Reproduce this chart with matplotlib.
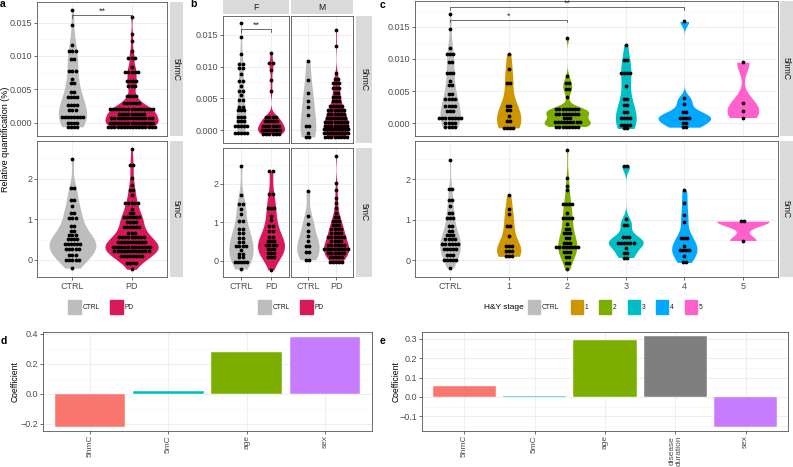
import numpy as np
import matplotlib
matplotlib.use("Agg")
import matplotlib.pyplot as plt
from matplotlib.patches import Rectangle

plt.rcParams['font.family'] = ['Liberation Sans', 'DejaVu Sans']

# rows of the dot plots: (value in %, number of dots in that row)
# panel c, 5hmC by H&Y stage
hmc_ctrl = [(0.0169, 1), (0.0147, 1), (0.0117, 1), (0.0107, 3), (0.0095, 2), (0.0078, 3), (0.0065, 1),
            (0.0059, 2), (0.0046, 2), (0.0038, 4), (0.0027, 4), (0.0019, 3), (0.0009, 8), (0.0, 4), (-0.0006, 4)]
hmc_s1 = [(0.0108, 1), (0.0084, 1), (0.0063, 2), (0.0027, 2), (0.0020, 2), (0.0011, 1), (0.0004, 2), (-0.0007, 4)]
hmc_s2 = [(0.0133, 1), (0.0073, 1), (0.0062, 2), (0.0053, 2), (0.0041, 1), (0.0022, 8), (0.0015, 8), (0.0008, 3),
          (0.0002, 9), (-0.0005, 8)]
hmc_s3 = [(0.0122, 1), (0.0099, 2), (0.0078, 4), (0.0058, 1), (0.0038, 2), (0.0029, 2), (0.0018, 2), (0.0008, 4),
          (-0.0002, 4), (-0.0008, 2)]
hmc_s4 = [(0.0158, 1), (0.0039, 1), (0.0030, 1), (0.0018, 2), (0.0009, 4), (0.0001, 2), (-0.0006, 2)]
hmc_s5 = [(0.0095, 1), (0.0031, 1), (0.0019, 1), (0.0009, 1)]

# panel c, 5mC by H&Y stage
mc_ctrl = [(2.48, 1), (1.76, 2), (1.48, 2), (1.34, 1), (1.16, 2), (1.03, 3), (0.84, 2), (0.71, 2), (0.61, 3),
           (0.51, 4), (0.39, 6), (0.26, 5), (0.12, 3), (0.0, 5), (-0.2, 1)]
mc_s1 = [(1.61, 1), (1.25, 1), (1.13, 1), (0.84, 2), (0.60, 1), (0.34, 3), (0.22, 3), (0.09, 3)]
mc_s2 = [(2.73, 1), (2.02, 1), (1.84, 1), (1.72, 1), (1.39, 4), (1.16, 1), (1.05, 4), (0.89, 1), (0.77, 2),
         (0.66, 3), (0.55, 2), (0.42, 3), (0.31, 8), (0.19, 3), (0.07, 2), (-0.07, 2), (-0.23, 1)]
mc_s3 = [(2.33, 2), (1.01, 1), (0.86, 2), (0.57, 3), (0.42, 6), (0.29, 1), (0.18, 2), (0.06, 2)]
mc_s4 = [(1.72, 1), (1.41, 1), (1.10, 1), (0.93, 1), (0.54, 3), (0.34, 1), (0.24, 4), (0.11, 1), (-0.06, 2)]
mc_s5 = [(0.96, 2), (0.48, 1)]

# panel b, split by sex
hmc_f_ctrl = [(0.0168, 1), (0.0146, 1), (0.0119, 1), (0.0104, 2), (0.0097, 2), (0.0088, 1), (0.0077, 2),
              (0.0069, 1), (0.0062, 2), (0.0055, 1), (0.0048, 2), (0.0037, 2), (0.0031, 3), (0.0021, 3),
              (0.0014, 3), (0.0007, 5), (-0.0004, 5)]
hmc_f_pd = [(0.0121, 1), (0.0105, 2), (0.0094, 1), (0.0078, 1), (0.0061, 1), (0.0021, 4), (0.0014, 5),
            (0.0007, 6), (0.0, 7), (-0.0006, 6)]
hmc_m_ctrl = [(0.0108, 1), (0.0079, 1), (0.0058, 1), (0.0046, 1), (0.0036, 1), (0.0024, 1), (0.0007, 2),
              (-0.0004, 1), (-0.0011, 2)]
hmc_m_pd = [(0.0157, 1), (0.0133, 1), (0.0089, 1), (0.0081, 2), (0.0074, 3), (0.0066, 3), (0.0059, 2),
            (0.0052, 3), (0.0046, 3), (0.0038, 5), (0.0031, 6), (0.0025, 6), (0.0019, 7), (0.0013, 8),
            (0.0007, 8), (0.0001, 9), (-0.0005, 9), (-0.0011, 8)]
mc_f_ctrl = [(2.47, 1), (1.71, 1), (1.47, 2), (1.34, 1), (1.22, 1), (1.02, 2), (0.83, 2), (0.71, 2), (0.58, 2),
             (0.48, 2), (0.38, 4), (0.28, 1), (0.18, 2), (0.08, 2), (-0.03, 5), (-0.22, 1)]
mc_f_pd = [(2.34, 2), (1.73, 2), (1.38, 3), (1.17, 1), (1.05, 1), (0.90, 2), (0.76, 2), (0.62, 2), (0.50, 3),
           (0.40, 4), (0.30, 3), (0.20, 3), (0.10, 3), (-0.24, 1)]
mc_m_ctrl = [(1.82, 1), (1.17, 1), (0.96, 1), (0.78, 1), (0.65, 1), (0.50, 1), (0.37, 2), (0.23, 2), (0.02, 2)]
mc_m_pd = [(2.74, 1), (2.02, 1), (1.83, 1), (1.63, 1), (1.50, 1), (1.37, 1), (1.25, 1), (1.15, 2), (1.03, 3),
           (0.93, 3), (0.83, 4), (0.71, 4), (0.61, 6), (0.50, 4), (0.40, 6), (0.30, 9), (0.19, 6), (0.09, 5),
           (-0.03, 5)]

# regression coefficients (panels d, e)
d_terms = ["5hmC", "5mC", "age", "sex"]
d_coef = [-0.218, 0.017, 0.281, 0.381]
e_terms = ["5hmC", "5mC", "age", "disease\nduration", "sex"]
e_coef = [0.057, 0.003, 0.297, 0.313, -0.154]

groups = ["CTRL", "PD"]
stages = ["CTRL", "1", "2", "3", "4", "5"]
sig_a = 0.0161
sig_b = 0.0159
sig_c = [0.0161, 0.0180]

grey = "#BDBDBD"
pd_col = "#D7195C"
stage_cols = [grey, "#CD9600", "#7CAE00", "#00BFC4", "#00A9FF", "#FF61CC"]
d_cols = ["#F8766D", "#00BFC4", "#7CAE00", "#C77CFF"]
e_cols = ["#F8766D", "#00BFC4", "#7CAE00", "#7F7F7F", "#C77CFF"]
strip_col = "#DADADA"
tick_col = "#4D4D4D"

W, H = 793, 467
fig = plt.figure(figsize=(W / 100, H / 100), dpi=100)


def box(r):
    x0, y0, x1, y1 = r
    return [x0 / W, 1 - y1 / H, (x1 - x0) / W, (y1 - y0) / H]


def fx(x):
    return x / W


def fy(y):
    return 1 - y / H


def expand(rows):
    return np.repeat([r[0] for r in rows], [r[1] for r in rows])


def nrd0(x):
    sd = np.std(x, ddof=1)
    lo = min(sd, (np.percentile(x, 75) - np.percentile(x, 25)) / 1.34)
    if lo == 0:
        lo = sd or abs(x[0]) or 1
    return 0.9 * lo * len(x) ** -0.2


def density(x):
    g = np.linspace(x.min(), x.max(), 512)
    bw = nrd0(x)
    d = np.exp(-0.5 * ((g[:, None] - x[None, :]) / bw) ** 2).sum(1) / (len(x) * bw * np.sqrt(2 * np.pi))
    return g, d


def dot_bins(x, width):
    bins = []
    end = -np.inf
    for v in np.sort(x):
        if v >= end:
            bins.append([v])
            end = v + width
        else:
            bins[-1].append(v)
    return [((b[0] + b[-1]) / 2, len(b)) for b in bins]


def violins(ax, r, data, cols, binw):
    dens = [density(v) for v in data]
    top = max(d.max() for _, d in dens)
    xl = ax.get_xlim()
    step = 3.1 / ((r[2] - r[0]) / (xl[1] - xl[0]))
    for i, (v, (g, d)) in enumerate(zip(data, dens)):
        pos = i + 1
        hw = 0.45 * d / top
        ax.fill_betweenx(g, pos - hw, pos + hw, color=cols[i], lw=0, zorder=2)
        for c, n in dot_bins(v, binw):
            xs = pos + (np.arange(n) - (n - 1) / 2) * step
            ax.scatter(xs, np.full(n, c), s=7.5, color="black", lw=0, zorder=3)


def frame(ax, ylim, yticks, fmt, ncat, xlabels=None, ylabels=True):
    ax.set_xlim(0.4, ncat + 0.6)
    ax.set_ylim(ylim)
    yticks = np.array(yticks)
    ax.set_yticks(yticks)
    ax.set_yticklabels([fmt(t) for t in yticks] if ylabels else [])
    half = (yticks[1] - yticks[0]) / 2
    minor = np.concatenate([yticks - half, [yticks[-1] + half]])
    ax.set_yticks(minor[(minor > ylim[0]) & (minor < ylim[1])], minor=True)
    ax.set_xticks(np.arange(1, ncat + 1))
    ax.grid(which="major", color="#EBEBEB", lw=0.6)
    ax.grid(which="minor", axis="y", color="#F3F3F3", lw=0.4)
    ax.set_axisbelow(True)
    ax.tick_params(which="minor", length=0)
    ax.tick_params(length=2, width=0.5, color="#333333", labelsize=6.5, labelcolor=tick_col, pad=1.5)
    if not ylabels:
        ax.tick_params(axis="y", length=0)
    if xlabels is None:
        ax.tick_params(axis="x", length=0, labelbottom=False)
    else:
        ax.set_xticklabels(xlabels)
    for s in ax.spines.values():
        s.set_color("#555555")
        s.set_linewidth(0.6)


def strip(r, text, rot):
    a = fig.add_axes(box(r))
    a.set_facecolor(strip_col)
    a.set_xticks([])
    a.set_yticks([])
    for s in a.spines.values():
        s.set_visible(False)
    a.text(0.5, 0.5, text, rotation=rot, ha="center", va="center", fontsize=6.2, color="#1A1A1A",
           transform=a.transAxes)


def bracket(ax, x0, x1, y, label, drop):
    ax.plot([x0, x0, x1, x1], [y - drop, y, y, y - drop], color="#333333", lw=0.5, zorder=4)
    ax.text((x0 + x1) / 2, y - drop * 0.3, label, ha="center", va="bottom", fontsize=6.5, color="#333333")


def legend_key(x0, x1, col, label):
    fig.patches.append(Rectangle((fx(x0), fy(314)), fx(x1 - x0), (314 - 300) / H, color=col,
                                 transform=fig.transFigure))
    fig.text(fx(x1 + 1.5), fy(307.5), label, fontsize=4.8, va="center", ha="left", color="#1A1A1A")


fmt3 = lambda t: "%.3f" % t
fmt0 = lambda t: "%d" % t
hm_ticks = [0.0, 0.005, 0.010, 0.015]
m_ticks = [0, 1, 2]

hmc_stage = [expand(x) for x in [hmc_ctrl, hmc_s1, hmc_s2, hmc_s3, hmc_s4, hmc_s5]]
mc_stage = [expand(x) for x in [mc_ctrl, mc_s1, mc_s2, mc_s3, mc_s4, mc_s5]]


def binw(arrs):
    v = np.concatenate(arrs)
    return (v.max() - v.min()) / 32


# ---------------- panel a ----------------
hmc_a = [hmc_stage[0], np.concatenate(hmc_stage[1:])]
mc_a = [mc_stage[0], np.concatenate(mc_stage[1:])]
r = (37, 2, 167, 136)
ax = fig.add_axes(box(r))
frame(ax, (-0.00199, 0.01807), hm_ticks, fmt3, 2)
violins(ax, r, hmc_a, [grey, pd_col], binw(hmc_a))
bracket(ax, 1, 2, sig_a, "**", 0.0004)
strip((170, 2, 183, 136), "5hmC", 270)
r = (37, 141, 167, 277)
ax = fig.add_axes(box(r))
frame(ax, (-0.42, 2.93), m_ticks, fmt0, 2, groups)
violins(ax, r, mc_a, [grey, pd_col], binw(mc_a))
strip((170, 141, 183, 277), "5mC", 270)
fig.text(fx(6), fy(139), "Relative quantification (%)", rotation=90, ha="center", va="center", fontsize=6.5)
legend_key(68, 81, grey, "CTRL")
legend_key(110, 123, pd_col, "PD")

# ---------------- panel b ----------------
hmc_b = [[expand(hmc_f_ctrl), expand(hmc_f_pd)], [expand(hmc_m_ctrl), expand(hmc_m_pd)]]
mc_b = [[expand(mc_f_ctrl), expand(mc_f_pd)], [expand(mc_m_ctrl), expand(mc_m_pd)]]
bw_hm = binw(hmc_b[0] + hmc_b[1])
bw_m = binw(mc_b[0] + mc_b[1])
for j, (x0, x1, sex) in enumerate([(223, 289, "F"), (291, 353, "M")]):
    r = (x0, 16, x1, 143)
    ax = fig.add_axes(box(r))
    frame(ax, (-0.00204, 0.01795), hm_ticks, fmt3, 2, ylabels=(j == 0))
    violins(ax, r, hmc_b[j], [grey, pd_col], bw_hm)
    if j == 0:
        bracket(ax, 1, 2, sig_b, "**", 0.0004)
    strip((x0, 0, x1, 14), sex, 0)
    r = (x0, 148, x1, 277)
    ax = fig.add_axes(box(r))
    frame(ax, (-0.43, 2.94), m_ticks, fmt0, 2, groups, ylabels=(j == 0))
    violins(ax, r, mc_b[j], [grey, pd_col], bw_m)
strip((356, 16, 372, 143), "5hmC", 270)
strip((356, 148, 372, 277), "5mC", 270)
legend_key(258, 271, grey, "CTRL")
legend_key(300, 313, pd_col, "PD")

# ---------------- panel c ----------------
r = (415, 1, 778, 136)
ax = fig.add_axes(box(r))
frame(ax, (-0.00197, 0.01898), hm_ticks, fmt3, 6)
violins(ax, r, hmc_stage, stage_cols, binw(hmc_stage))
bracket(ax, 1, 3, sig_c[0], "*", 0.0004)
bracket(ax, 1, 5, sig_c[1], "**", 0.0004)
strip((780, 1, 793, 136), "5hmC", 270)
r = (415, 141, 778, 277)
ax = fig.add_axes(box(r))
frame(ax, (-0.42, 2.94), m_ticks, fmt0, 6, stages)
violins(ax, r, mc_stage, stage_cols, binw(mc_stage))
strip((780, 141, 793, 277), "5mC", 270)
fig.text(fx(484), fy(307.5), "H&Y stage", fontsize=6, va="center", ha="left")
for x0, col, lab in zip([528, 571, 599, 628, 656, 685], stage_cols, stages):
    legend_key(x0, x0 + 12, col, lab)


# ---------------- panels d, e ----------------
def bars(r, terms, coef, cols, ticks, ylim, ylab_x):
    ax = fig.add_axes(box(r))
    x = np.arange(1, len(terms) + 1)
    ax.bar(x, coef, width=0.9, color=cols, edgecolor="white", lw=0.3, zorder=2)
    frame(ax, ylim, ticks, lambda t: ("%.1f" % t).replace("-", "\u2212"), len(terms), terms)
    ax.tick_params(axis="x", pad=0.8)
    for lab in ax.get_xticklabels():
        lab.set_rotation(90)
        lab.set_va("top")
        lab.set_ha("center")
        lab.set_multialignment("center")
        lab.set_fontsize(6.0)
        lab.set_linespacing(1.0)
    fig.text(fx(ylab_x), fy((r[1] + r[3]) / 2), "Coefficient", rotation=90, ha="center", va="center",
             fontsize=6.2)


bars((43, 332, 372, 431), d_terms, d_coef, d_cols, [-0.2, 0.0, 0.2, 0.4], (-0.247, 0.413), 15)
bars((422, 332, 788, 431), e_terms, e_coef, e_cols, [-0.1, 0.0, 0.1, 0.2, 0.3], (-0.176, 0.336), 396)

for x, y, t in [(3, 4, "a"), (193, 4, "b"), (382, 5, "c"), (4, 341, "d"), (383, 341, "e")]:
    fig.text(fx(x), fy(y), t, fontsize=7.5, fontweight="bold", ha="center", va="center")

fig.savefig("out.png", dpi=100)
